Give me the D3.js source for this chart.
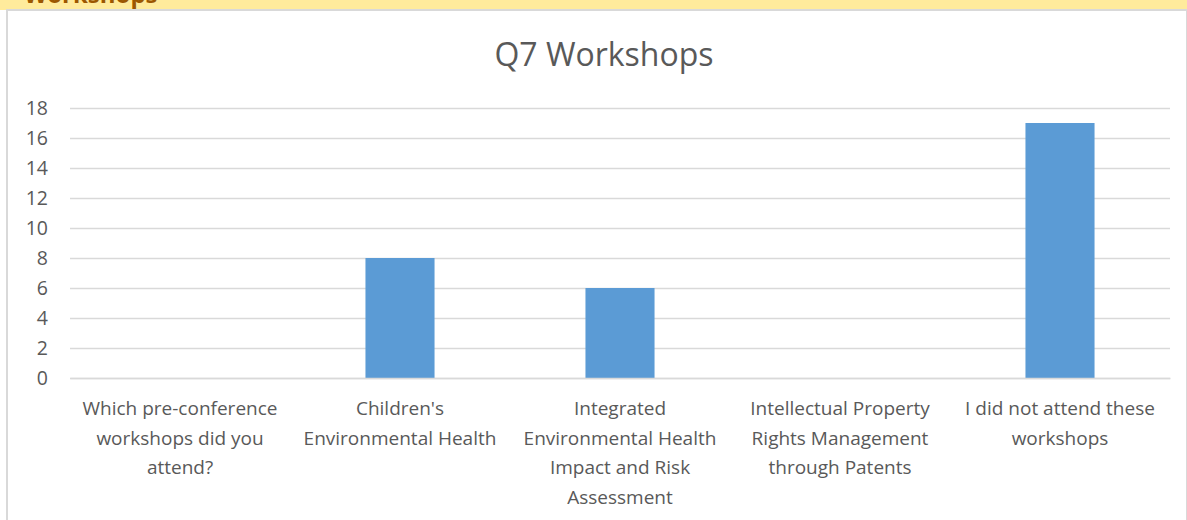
<!DOCTYPE html>
<html>
<head>
<meta charset="utf-8">
<script src="https://cdn.jsdelivr.net/npm/d3@7"></script>
<style>
    body { margin: 0; background: #fff; }
    svg { display: block; font-family: "Open Sans", sans-serif; }
</style>
</head>
<body>
<div id="chart"></div>
<script>
// data
const categories = [
    "Which pre-conference\nworkshops did you\nattend?",
    "Children's\nEnvironmental Health",
    "Integrated\nEnvironmental Health\nImpact and Risk\nAssessment",
    "Intellectual Property\nRights Management\nthrough Patents",
    "I did not attend these\nworkshops"
]
const counts = [0, 8, 6, 0, 17]
const yTicks = [0, 2, 4, 6, 8, 10, 12, 14, 16, 18]

let width = 1187
let height = 520
let plotLeft = 70, plotRight = 1170, plotTop = 108, plotBottom = 378
let fontFam = "'Open Sans', sans-serif"

let svg = d3.select("#chart")
    .append("svg")
    .attr("width", width)
    .attr("height", height)

// sheet header band, cut off at the top
svg.append("rect")
    .attr("x", 0).attr("y", 0)
    .attr("width", width).attr("height", 10)
    .style("fill", "#FFEB9C")

svg.append("text")
    .attr("x", 24).attr("y", 3)
    .style("font-size", "24px")
    .style("font-weight", "bold")
    .style("fill", "#9C5700")
    .text("Workshops")

// chart frame
svg.append("rect")
    .attr("x", 7).attr("y", 10)
    .attr("width", 1180).attr("height", 520)
    .style("fill", "#fff")
    .style("stroke", "#d9d9d9")
    .style("stroke-width", 2)

let x = d3.scaleBand()
    .domain(categories)
    .range([plotLeft, plotRight])
    .paddingInner(0.686)
    .paddingOuter(0.343)

let y = d3.scaleLinear()
    .domain([0, 18])
    .range([plotBottom, plotTop])

// gridlines + y labels
let yAxis = d3.axisLeft(y)
    .tickValues(yTicks)
    .tickSize(-(plotRight - plotLeft))
    .tickPadding(22)

let gy = svg.append("g")
    .attr("class", "y axis")
    .attr("transform", "translate(" + plotLeft + ",0)")
    .call(yAxis)

gy.select(".domain").remove()
gy.selectAll("line")
    .style("stroke", "#d9d9d9")
    .style("stroke-width", 1.5)
gy.selectAll("text")
    .style("font-family", fontFam)
    .style("font-size", "19.5px")
    .style("fill", "#595959")

// bars
svg.append("g")
    .selectAll("rect")
    .data(counts)
    .enter()
    .append("rect")
    .attr("x", (d, i) => x(categories[i]))
    .attr("width", x.bandwidth())
    .attr("y", d => y(d))
    .attr("height", d => y(0) - y(d))
    .style("fill", "#5B9BD5")

// x axis with wrapped labels
let xAxis = d3.axisBottom(x).tickSize(0).tickPadding(0)

let gx = svg.append("g")
    .attr("class", "x axis")
    .attr("transform", "translate(0," + plotBottom + ")")
    .call(xAxis)

gx.select(".domain")
    .style("stroke", "#d9d9d9")
    .style("stroke-width", 1.5)

gx.selectAll("text")
    .style("font-family", fontFam)
    .style("font-size", "19px")
    .style("fill", "#595959")
    .attr("dy", null)
    .attr("y", 0)
    .each(function (d) {
        let t = d3.select(this).text("")
        d.split("\n").forEach((line, i) => {
            t.append("tspan")
                .attr("x", 0)
                .attr("y", 37 + i * 29.5)
                .text(line)
        })
    })

// title
svg.append("text")
    .attr("x", 604)
    .attr("y", 66)
    .attr("text-anchor", "middle")
    .style("font-size", "32px")
    .style("fill", "#595959")
    .text("Q7 Workshops")
</script>
</body>
</html>
